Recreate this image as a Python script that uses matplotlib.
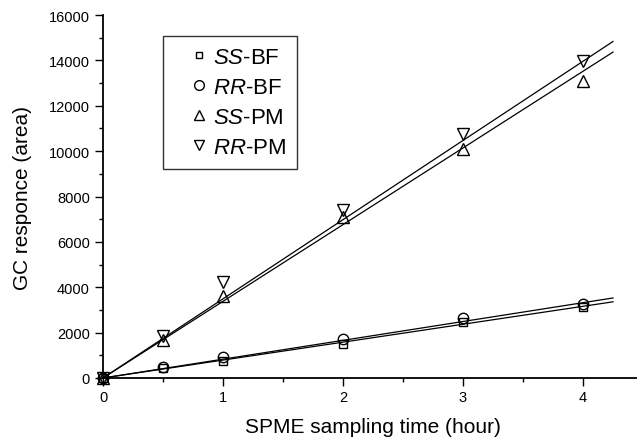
import numpy as np
import matplotlib.pyplot as plt

plt.rcParams['font.family'] = ['Liberation Sans', 'DejaVu Sans']
plt.rcParams['mathtext.fontset'] = 'custom'
plt.rcParams['mathtext.rm'] = 'Liberation Sans'
plt.rcParams['mathtext.it'] = 'Liberation Sans:italic'

# sampling time (hour)
hours = [0, 0.5, 1, 2, 3, 4]

# GC response (area)
ss_bf = [0, 430, 750, 1500, 2470, 3130]
rr_bf = [0, 480, 920, 1720, 2640, 3260]
ss_pm = [0, 1670, 3600, 7100, 10090, 13090]
rr_pm = [0, 1850, 4230, 7400, 10750, 13970]

# regression lines as drawn in the figure (slope per hour, intercept)
fit_slope = [790, 830, 3380, 3490]
fit_icpt = [0, 0, 0, 0]
fit_range = [0, 4.25]

labels = [r'$\mathit{SS}$-BF', r'$\mathit{RR}$-BF',
          r'$\mathit{SS}$-PM', r'$\mathit{RR}$-PM']
series = [ss_bf, rr_bf, ss_pm, rr_pm]
markers = ['s', 'o', '^', 'v']
sizes = [6, 7.5, 9, 9]
leg_sizes = [5, 7, 7, 7]

fig = plt.figure(figsize=(6.37, 4.39), dpi=100)
ax = fig.add_axes([103 / 637, 1 - 379 / 439, 534 / 637, 363 / 439])

xfit = np.array(fit_range)
for ys, k, b, m, ms, lab in zip(series, fit_slope, fit_icpt, markers, sizes, labels):
    ax.plot(hours, ys, linestyle='none', marker=m, ms=ms, mfc='none',
            mec='black', mew=1.0, label=lab, clip_on=False, zorder=3)
    ax.plot(xfit, k * xfit + b, color='black', lw=0.9, zorder=2)

ax.set_xlim(0, 4.45)
ax.set_ylim(0, 16000)
ax.set_xticks([0, 1, 2, 3, 4])
ax.set_xticks([0.5, 1.5, 2.5, 3.5], minor=True)
ax.set_yticks(np.arange(0, 16001, 2000))
ax.set_yticks(np.arange(1000, 16000, 2000), minor=True)

for s in ['top', 'right']:
    ax.spines[s].set_visible(False)
for s in ['left', 'bottom']:
    ax.spines[s].set_linewidth(1.3)

ax.tick_params(which='major', direction='out', length=5.5, width=1, labelsize=10.5)
ax.tick_params(which='minor', direction='out', length=3, width=1)
ax.tick_params(axis='y', which='major', pad=4)

ax.set_xlabel('SPME sampling time (hour)', fontsize=15)
ax.xaxis.set_label_coords(0.506, -0.107)
ax.set_ylabel('GC responce (area)', fontsize=15)
ax.yaxis.set_label_coords(-0.133, 0.5)

leg = ax.legend(loc='upper left', bbox_to_anchor=(60 / 534, (379 - 37) / 363),
                borderaxespad=0, fontsize=16, frameon=True, fancybox=False,
                edgecolor='black', handletextpad=-0.5, labelspacing=0.4,
                borderpad=0.5, handlelength=2.25)
leg.get_frame().set_linewidth(1.0)
for h, ms in zip(leg.legend_handles, leg_sizes):
    h.set_markersize(ms)

fig.savefig('out.png', dpi=100)
